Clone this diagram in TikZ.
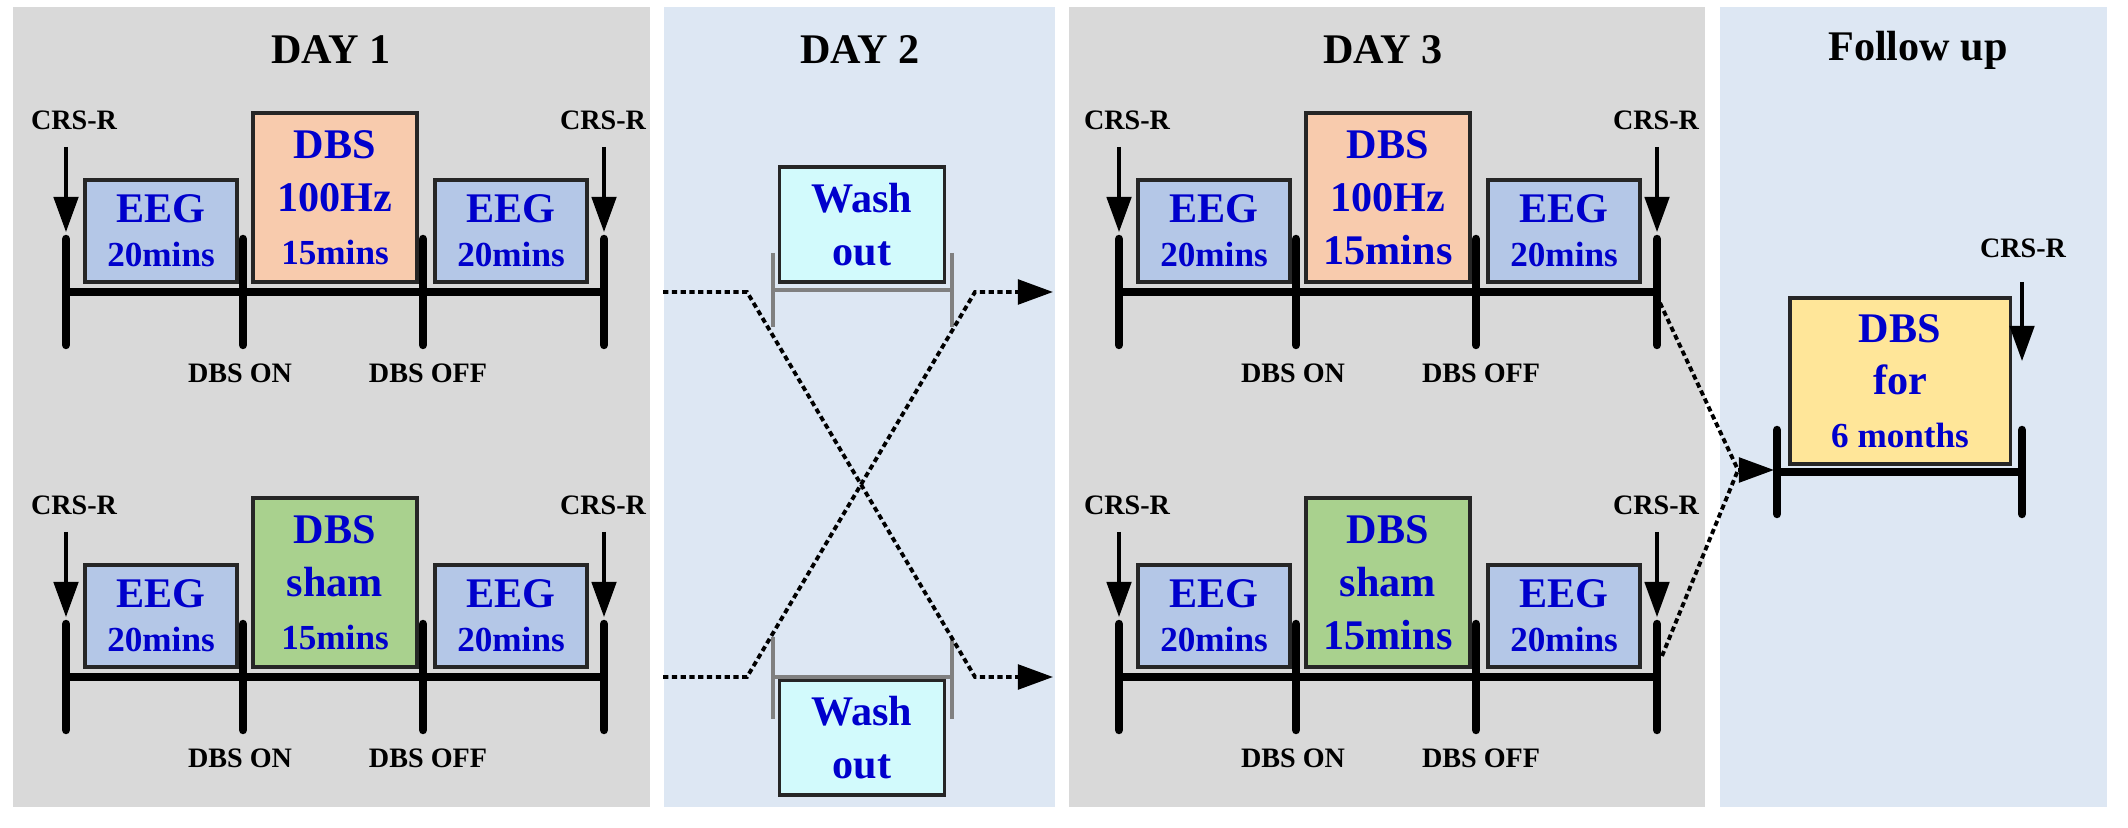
\documentclass[tikz,border=0pt]{standalone}
\usepackage{fontspec}
\setmainfont{Liberation Serif}
\usetikzlibrary{arrows.meta,positioning}
\definecolor{panelgray}{RGB}{217,217,217}
\definecolor{panelblue}{RGB}{221,231,243}
\definecolor{eegfill}{RGB}{180,199,231}
\definecolor{dbson}{RGB}{248,203,173}
\definecolor{dbsham}{RGB}{169,209,142}
\definecolor{washfill}{RGB}{210,250,252}
\definecolor{followfill}{RGB}{255,230,153}
\definecolor{textblue}{RGB}{0,0,204}
\tikzset{
	>={Triangle[length=10pt,width=7pt]},
	title/.style={font=\bfseries\fontsize{12}{14}\selectfont},
	small/.style={font=\bfseries\fontsize{8}{9}\selectfont, inner sep=0pt},
	box/.style={draw=black!85, line width=0.9pt, text=textblue, align=center, inner sep=0pt},
	eeg/.style={box, fill=eegfill, minimum width=1.52cm, minimum height=1.02cm, font=\bfseries\fontsize{12}{12.5}\selectfont},
	dbs/.style={box, minimum width=1.64cm, minimum height=1.69cm, font=\bfseries\fontsize{12}{15}\selectfont},
	wash/.style={box, fill=washfill, minimum width=1.65cm, minimum height=1.15cm, font=\bfseries\fontsize{12}{15}\selectfont},
	axis/.style={line width=2.4pt},
	tickmark/.style={line width=2.4pt, line cap=round},
	crs/.style={->, line width=0.9pt},
	bracket/.style={draw=gray, line width=1.1pt},
	dotline/.style={line width=1.1pt, dash pattern=on 1.5pt off 1pt},
}
\begin{document}
\begin{tikzpicture}[x=0.01cm, y=-0.01cm]
	\useasboundingbox (0,0) rectangle (2128,828);
	\fill[white] (0,0) rectangle (2128,828);
	% panels
	\fill[panelgray] (13,7) rectangle (650,807);
	\fill[panelblue] (664,7) rectangle (1055,807);
	\fill[panelgray] (1069,7) rectangle (1705,807);
	\fill[panelblue] (1720,7) rectangle (2107,807);
	\node[title] (t1) at (331,50) {DAY 1};
	\node[title] (t2) at (860,50) {DAY 2};
	\node[title] (t3) at (1383,50) {DAY 3};
	\node[title] (t4) at (1918,50) {Follow up};

	% day 1 and day 3 timelines
	\foreach \d/\dx/\fs in {1/0/10, 3/1053/12} {
		\foreach \r/\dy/\col/\mid in {t/0/dbson/100Hz, b/385/dbsham/sham} {
			\begin{scope}[shift={(\dx,\dy)}]
				\coordinate (d\d\r a) at (66,292);
				\coordinate (d\d\r b) at (243,292);
				\coordinate (d\d\r c) at (423,292);
				\coordinate (d\d\r d) at (604,292);
				\draw[axis] (d\d\r a) -- (d\d\r d);
				\foreach \p in {a,b,c,d}
					\draw[tickmark] (d\d\r\p) ++(0,-53) -- ++(0,106);
				\node[eeg] (d\d\r-eeg1) at (161,231) {EEG\\{\fontsize{10}{12.5}\selectfont 20mins}};
				\node[dbs, fill=\col] (d\d\r-dbs) at (335,197.5) {DBS\\\mid\\{\fontsize{\fs}{15}\selectfont 15mins}};
				\node[eeg] (d\d\r-eeg2) at (511,231) {EEG\\{\fontsize{10}{12.5}\selectfont 20mins}};
				\node[small] (d\d\r-crs1) at (74,120) {CRS-R};
				\node[small] (d\d\r-crs2) at (603,120) {CRS-R};
				\coordinate (d\d\r-s1) at (66,147);
				\coordinate (d\d\r-e1) at (66,232);
				\coordinate (d\d\r-s2) at (604,147);
				\coordinate (d\d\r-e2) at (604,232);
				\draw[crs] (d\d\r-s1) -- (d\d\r-e1);
				\draw[crs] (d\d\r-s2) -- (d\d\r-e2);
				\node[small] (d\d\r-on) at (240,373) {DBS ON};
				\node[small] (d\d\r-off) at (428,373) {DBS OFF};
			\end{scope}
		}
	}

	% day 2 wash out
	\node[wash] (w1) at (862,224.5) {Wash\\out};
	\node[wash] (w2) at (862,737.5) {Wash\\out};
	\draw[bracket] (773,253) -- (773,327) (773,290) -- (952,290) (952,253) -- (952,327);
	\draw[bracket] (773,637) -- (773,719) (773,677) -- (952,677) (952,637) -- (952,719);
	\coordinate (x1) at (663,292);
	\coordinate (x2) at (747,292);
	\coordinate (x3) at (975,677);
	\coordinate (x4) at (1053,677);
	\coordinate (y1) at (663,677);
	\coordinate (y2) at (747,677);
	\coordinate (y3) at (975,292);
	\coordinate (y4) at (1053,292);
	\draw[dotline, ->] (x1) -- (x2) -- (x3) -- (x4);
	\draw[dotline, ->] (y1) -- (y2) -- (y3) -- (y4);

	% follow up
	\coordinate (fa) at (1777,472);
	\coordinate (fb) at (2022,472);
	\node[box, fill=followfill, minimum width=2.2cm, minimum height=1.66cm, font=\bfseries\fontsize{12}{15}\selectfont] (fu) at (1900,381) {DBS\\for\\{\fontsize{10}{15}\selectfont 6 months}};
	\draw[axis] (fa) -- (fb);
	\draw[tickmark] (fa) ++(0,-42) -- ++(0,84);
	\draw[tickmark] (fb) ++(0,-42) -- ++(0,84);
	\node[small] (fcrs) at (2023,248) {CRS-R};
	\coordinate (fs) at (2022,282);
	\coordinate (fe) at (2022,361);
	\draw[crs] (fs) -- (fe);
	\coordinate (f1) at (1660,303);
	\coordinate (f2) at (1662,656);
	\coordinate (fm) at (1738,470);
	\coordinate (ft) at (1774,470);
	\draw[dotline] (f1) -- (fm);
	\draw[dotline] (f2) -- (fm);
	\draw[dotline, ->] (fm) -- (ft);
\end{tikzpicture}
\end{document}
